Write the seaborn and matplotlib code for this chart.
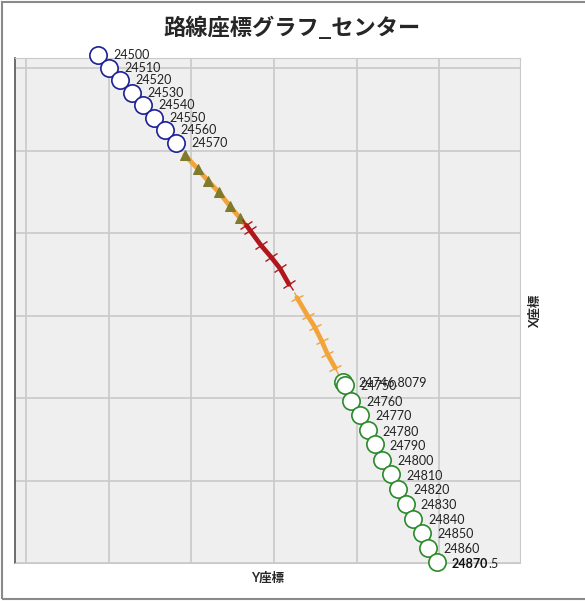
import pandas as pd
import matplotlib
matplotlib.use("Agg")
import matplotlib.pyplot as plt
import seaborn as sns
from matplotlib.markers import MarkerStyle
from matplotlib.transforms import Affine2D
from matplotlib.patches import Rectangle

# 路線座標 (relative, m): Y = horizontal, X = vertical
start_labels = ["24500", "24510", "24520", "24530", "24540", "24550", "24560", "24570"]
start_y = [17.4, 20.0, 22.7, 25.6, 28.3, 30.9, 33.6, 36.2]
start_x = [123.2, 120.0, 117.1, 114.1, 111.0, 108.0, 105.1, 102.0]

tri_y = [38.4, 41.5, 44.0, 46.6, 49.3, 51.7, 53.1]
tri_x = [99.0, 95.6, 92.7, 90.0, 86.6, 83.7, 82.0]

red_y = [53.3, 54.1, 56.8, 59.2, 61.4, 63.6]
red_x = [81.9, 80.8, 77.1, 74.3, 71.5, 67.6]

cross_y = [65.5, 68.1, 69.8, 71.5, 72.9, 74.8]
cross_x = [64.4, 60.0, 57.3, 53.9, 50.7, 47.3]

end_labels = ["24746.8079", "24750", "24760", "24770", "24780", "24790", "24800",
              "24810", "24820", "24830", "24840", "24850", "24860", "24870.5"]
end_y = [76.6, 77.1, 78.7, 80.7, 82.6, 84.3, 86.2, 88.2, 89.9, 91.8, 93.7, 95.7, 97.3, 99.3]
end_x = [43.9, 43.2, 39.3, 35.9, 32.2, 28.8, 25.1, 21.5, 18.0, 14.4, 10.7, 7.3, 3.7, 0.2]

sns.set_style("white")
plt.rcParams['font.family'] = ['Lato', 'Noto Sans CJK JP', 'DejaVu Sans']

fig = plt.figure(figsize=(5.85, 6.01), dpi=100)
ax = fig.add_axes([0.0256, 0.0632, 0.8633, 0.8403])
ax.set_facecolor("#efefef")

orange = "#f2a33a"
red = "#b0171c"

sns.lineplot(x=tri_y, y=tri_x, ax=ax, sort=False, estimator=None, color=orange,
             linewidth=3.4, marker="^", markersize=6.5, markerfacecolor="#7f7a2c",
             markeredgecolor="#7f7a2c", markevery=list(range(6)))
sns.lineplot(x=red_y, y=red_x, ax=ax, sort=False, estimator=None, color=red,
             linewidth=3.4, marker=MarkerStyle("+", transform=Affine2D().rotate_deg(36)),
             markersize=10, markeredgewidth=1.0, markeredgecolor=red)
sns.lineplot(x=cross_y, y=cross_x, ax=ax, sort=False, estimator=None, color=orange,
             linewidth=3.4, marker=MarkerStyle("+", transform=Affine2D().rotate_deg(29)),
             markersize=10, markeredgewidth=1.0, markeredgecolor=orange)

sns.scatterplot(x=start_y, y=start_x, ax=ax, s=155, color="white",
                edgecolor="#1c1f96", linewidth=1.2, zorder=4, clip_on=False)
sns.scatterplot(x=end_y, y=end_x, ax=ax, s=155, color="white",
                edgecolor="#2a8a2a", linewidth=1.2, zorder=4, clip_on=False)

for lab, xv, yv in zip(start_labels, start_y, start_x):
    ax.annotate(lab, (xv, yv), xytext=(11, 0), textcoords="offset points",
                ha="left", va="center", fontsize=9, color="#222222", zorder=5,
                annotation_clip=False)
for lab, xv, yv in zip(end_labels[:-1], end_y, end_x):
    ax.annotate(lab, (xv, yv), xytext=(11, -1), textcoords="offset points",
                ha="left", va="center", fontsize=9, color="#222222", zorder=5,
                annotation_clip=False)
ax.annotate("24870", (end_y[-1], end_x[-1]), xytext=(11, -1), textcoords="offset points",
            ha="left", va="center", fontsize=9, fontweight="bold", color="#111111",
            annotation_clip=False)
ax.annotate(".5", (end_y[-1], end_x[-1]), xytext=(37, -1), textcoords="offset points",
            ha="left", va="center", fontsize=9, color="#222222", annotation_clip=False)

ax.set_xlim(-2.7, 119.5)
ax.set_ylim(0, 122.5)
ax.set_xticks([0, 20, 40, 60, 80, 100])
ax.set_yticks([0, 20, 40, 60, 80, 100, 120])
ax.set_xticklabels([])
ax.set_yticklabels([])
ax.grid(True, color="#c9c9c9", linewidth=1.2)
ax.set_axisbelow(True)
ax.tick_params(axis="y", direction="in", length=7, color="#555555", width=1)
ax.tick_params(axis="x", length=0)
for side in ["top", "right", "bottom"]:
    ax.spines[side].set_color("#c9c9c9")
ax.spines["left"].set_color("#555555")
ax.spines["left"].set_linewidth(1.2)

ax.set_xlabel("Y座標", fontsize=9, fontweight="bold", labelpad=3)
ax.yaxis.set_label_position("right")
ax.set_ylabel("X座標", fontsize=9, fontweight="bold", labelpad=6, rotation=90)

fig.text(0.5, 0.953, "路線座標グラフ_センター", ha="center", va="center",
         fontsize=16, fontweight="bold", family=["Noto Sans CJK JP", "DejaVu Sans"])

# outer frame (right side runs off the picture)
fig.patches.append(Rectangle((0.004, 0.004), 1.2, 0.993, transform=fig.transFigure,
                             fill=False, edgecolor="#8a8a8a", linewidth=1.5))

fig.savefig("out.png", dpi=100)
